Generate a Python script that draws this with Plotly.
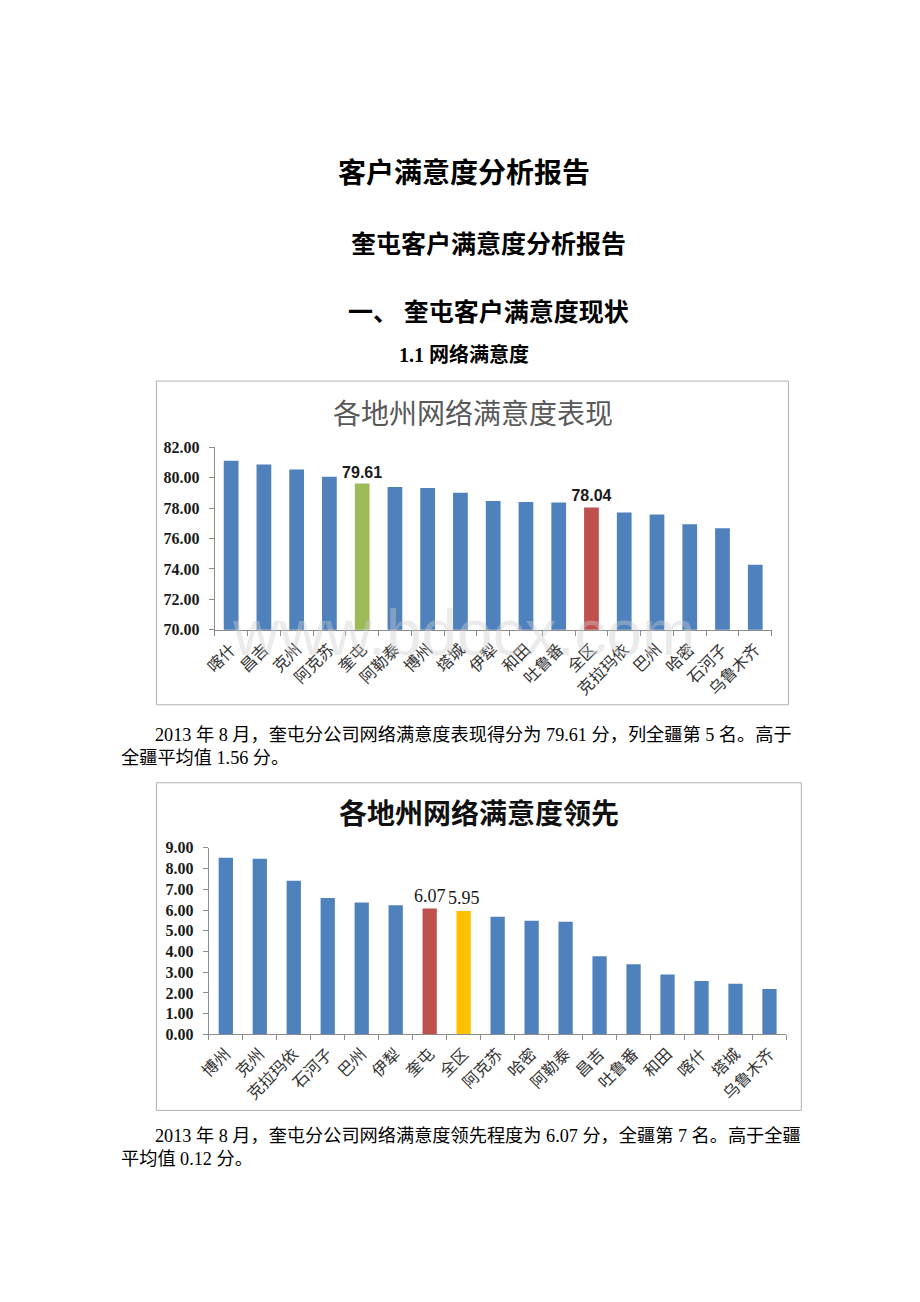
import plotly.graph_objects as go

W, H = 920, 1302

# ---------------- data ----------------
cats1 = ["喀什", "昌吉", "克州", "阿克苏", "奎屯", "阿勒泰", "博州", "塔城", "伊犁",
         "和田", "吐鲁番", "全区", "克拉玛依", "巴州", "哈密", "石河子", "乌鲁木齐"]
vals1 = [81.11, 80.87, 80.53, 80.05, 79.61, 79.38, 79.31, 79.01, 78.47,
         78.40, 78.36, 78.04, 77.71, 77.58, 76.93, 76.67, 74.27]
ticks1 = [70, 72, 74, 76, 78, 80, 82]

cats2 = ["博州", "克州", "克拉玛依", "石河子", "巴州", "伊犁", "奎屯", "全区", "阿克苏",
         "哈密", "阿勒泰", "昌吉", "吐鲁番", "和田", "喀什", "塔城", "乌鲁木齐"]
vals2 = [8.52, 8.47, 7.42, 6.58, 6.36, 6.23, 6.07, 5.95, 5.68,
         5.48, 5.44, 3.77, 3.39, 2.89, 2.58, 2.45, 2.19]
ticks2 = [0, 1, 2, 3, 4, 5, 6, 7, 8, 9]

BLUE, GREEN, RED, GOLD = "#4F81BD", "#9BBB59", "#C0504D", "#FFC000"
colors1 = {"奎屯": GREEN, "全区": RED}
colors2 = {"奎屯": RED, "全区": GOLD}


def px(x):
    return x / W


def py(y):
    return 1 - y / H


fig = go.Figure()

lbl1 = dict(family="Liberation Sans", size=16, color="#1a1a1a", weight="bold")
lbl2 = dict(family="Liberation Serif", size=18, color="#1a1a1a")

fig.add_trace(go.Bar(
    x=cats1, y=vals1, xaxis="x", yaxis="y",
    marker=dict(color=[colors1.get(c, BLUE) for c in cats1], line=dict(width=0)),
    text=[f"{v:.2f}" if c in colors1 else "" for c, v in zip(cats1, vals1)],
    textposition="outside", cliponaxis=False, constraintext="none",
    textfont=lbl1, outsidetextfont=lbl1,
    width=0.45, showlegend=False,
))
fig.add_trace(go.Bar(
    x=cats2, y=vals2, xaxis="x2", yaxis="y2",
    marker=dict(color=[colors2.get(c, BLUE) for c in cats2], line=dict(width=0)),
    text=[f"{v:.2f}" if c in colors2 else "" for c, v in zip(cats2, vals2)],
    textposition="outside", cliponaxis=False, constraintext="none",
    textfont=lbl2, outsidetextfont=lbl2,
    width=0.42, showlegend=False,
))

tickfont_cat = dict(family="Liberation Serif, Noto Sans CJK SC", size=16, color="#333333")
tickfont_num = dict(family="Liberation Serif", size=16, color="#1a1a1a", weight="bold")
axcol = "#8c8c8c"

common_x = dict(type="category", showline=True, linecolor=axcol, linewidth=1,
                ticks="outside", tickson="boundaries", ticklen=5, tickcolor=axcol,
                tickangle=-45, tickfont=tickfont_cat, showgrid=False, zeroline=False,
                ticklabelstandoff=3)
common_y = dict(showline=True, linecolor=axcol, linewidth=1, ticks="outside",
                ticklen=5, tickcolor=axcol, showgrid=False, zeroline=False,
                tickfont=tickfont_num, tickformat=".2f", ticklabelstandoff=6)

fig.update_layout(
    width=W, height=H, margin=dict(l=0, r=0, t=0, b=0),
    paper_bgcolor="white", plot_bgcolor="rgba(0,0,0,0)",
    bargap=0.55,
    xaxis=dict(domain=[px(207), px(770)], anchor="y", **common_x),
    yaxis=dict(domain=[py(630), py(445)], anchor="x", range=[70, 82],
               tickvals=ticks1, **common_y),
    xaxis2=dict(domain=[px(201), px(785)], anchor="y2", **common_x),
    yaxis2=dict(domain=[py(1040), py(851)], anchor="x2", range=[0, 9],
                tickvals=ticks2, **common_y),
)

# chart frames
for (x0, y0, x1, y1) in [(148, 378, 787, 706), (148, 785, 800, 1117)]:
    fig.add_shape(type="rect", xref="paper", yref="paper",
                  x0=px(x0), y0=py(y0), x1=px(x1), y1=py(y1),
                  line=dict(color="#b0b0b0", width=1), fillcolor="rgba(0,0,0,0)",
                  layer="below")


def txt(x, y, s, size, family, color="#000000", xanchor="center", bold=False):
    fig.add_annotation(x=px(x), y=py(y), xref="paper", yref="paper",
                       text=f"<b>{s}</b>" if bold else s, showarrow=False,
                       xanchor=xanchor, yanchor="middle",
                       font=dict(size=size, family=family, color=color))


sans = "Noto Sans CJK SC"
serif = "Liberation Serif, Noto Sans CJK SC"

txt(459, 165, "客户满意度分析报告", 28, sans, bold=True)
txt(484, 237, "奎屯客户满意度分析报告", 25, sans, bold=True)
txt(484, 306, "一、 奎屯客户满意度现状", 25, sans, bold=True)
txt(459, 351, "1.1 网络满意度", 20, serif, bold=True)

# chart titles
txt(468, 409, "各地州网络满意度表现", 28, sans, color="#595959")
txt(474, 815, "各地州网络满意度领先", 28, sans, color="#111111", bold=True)

# watermark
txt(458, 633, "www.bdocx.com", 64, "Liberation Sans", color="rgba(205,205,205,0.4)")

# paragraphs
txt(145, 737, "2013 年 8 月，奎屯分公司网络满意度表现得分为 79.61 分，列全疆第 5 名。高于",
    18.2, serif, xanchor="left")
txt(110, 760, "全疆平均值 1.56 分。", 18.2, serif, xanchor="left")
txt(145, 1143, "2013 年 8 月，奎屯分公司网络满意度领先程度为 6.07 分，全疆第 7 名。高于全疆",
    18.2, serif, xanchor="left")
txt(110, 1166, "平均值 0.12 分。", 18.2, serif, xanchor="left")

fig.write_html("out.html")
